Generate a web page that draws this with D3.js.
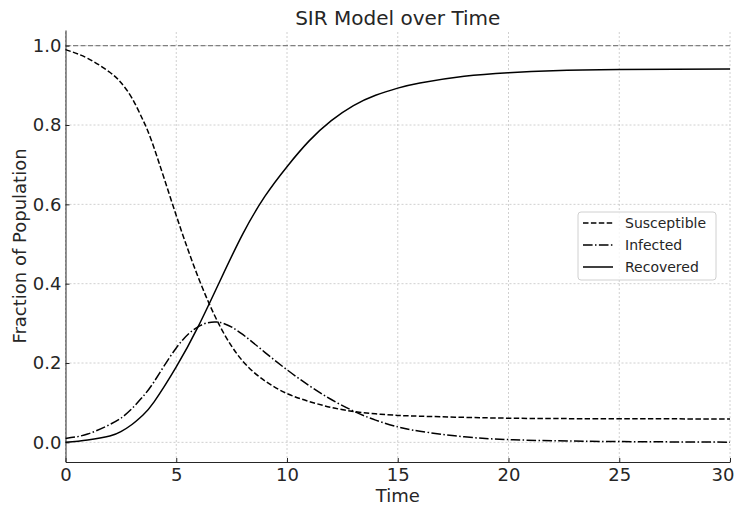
<!DOCTYPE html>
<html>
<head>
<meta charset="utf-8">
<script src="https://cdn.jsdelivr.net/npm/d3@7"></script>
<style>
  body { margin: 0; background: #fff; }
  text { font-family: "DejaVu Sans", sans-serif; fill: #262626; }
</style>
</head>
<body>
<div id="chart"></div>
<script>
// values
var times       = [0, 1, 2, 2.5, 3, 3.5, 4, 5, 6, 7, 8, 9, 10, 11, 12, 13, 14, 15, 16, 18, 20, 22, 25, 30];
var susceptible = [0.99, 0.968, 0.933, 0.907, 0.868, 0.812, 0.742, 0.572, 0.415, 0.29, 0.205, 0.155, 0.123, 0.103, 0.088, 0.078, 0.072, 0.068, 0.066, 0.063, 0.061, 0.060, 0.0595, 0.059];
var infected    = [0.01, 0.021, 0.045, 0.061, 0.085, 0.116, 0.153, 0.238, 0.292, 0.302, 0.272, 0.227, 0.183, 0.143, 0.108, 0.079, 0.056, 0.039, 0.028, 0.014, 0.007, 0.004, 0.002, 0.0005];
var recovered   = [0.0, 0.006, 0.016, 0.027, 0.045, 0.069, 0.102, 0.19, 0.293, 0.41, 0.525, 0.62, 0.695, 0.76, 0.811, 0.849, 0.875, 0.893, 0.906, 0.923, 0.932, 0.937, 0.94, 0.941];

var seriesNames = ['Susceptible', 'Infected', 'Recovered'];
var xTicks = [0, 5, 10, 15, 20, 25, 30];
var yTicks = [0.0, 0.2, 0.4, 0.6, 0.8, 1.0];
var totalPop = 1.0;

var width = 735, height = 507;
var margin = {left: 65.5, right: 5, top: 30, bottom: 45};

var svg = d3.select('#chart').append('svg')
    .attr('width', width)
    .attr('height', height);

var x = d3.scaleLinear()
    .domain([0, 30])
    .range([margin.left, width - margin.right]);

var y = d3.scaleLinear()
    .domain([-0.0495, 1.0395])
    .range([height - margin.bottom, margin.top]);

// grid
var grid = svg.append('g').attr('class', 'grid');
grid.selectAll('.gx').data(xTicks).enter().append('line')
    .attr('x1', function(d) { return x(d); })
    .attr('x2', function(d) { return x(d); })
    .attr('y1', y.range()[0])
    .attr('y2', y.range()[1])
    .attr('stroke', '#c4c4c4')
    .attr('stroke-width', 0.8)
    .attr('stroke-dasharray', '2,2');
grid.selectAll('.gy').data(yTicks).enter().append('line')
    .attr('x1', x.range()[0])
    .attr('x2', x.range()[1])
    .attr('y1', function(d) { return y(d); })
    .attr('y2', function(d) { return y(d); })
    .attr('stroke', '#c4c4c4')
    .attr('stroke-width', 0.8)
    .attr('stroke-dasharray', '2,2');

// total population reference line
svg.append('line')
    .attr('x1', x.range()[0])
    .attr('x2', x.range()[1])
    .attr('y1', y(totalPop))
    .attr('y2', y(totalPop))
    .attr('stroke', '#808080')
    .attr('stroke-width', 1.3)
    .attr('stroke-dasharray', '5,2.5');

// axes
var xAxis = d3.axisBottom(x).tickValues(xTicks).tickSizeInner(-4).tickSizeOuter(0).tickPadding(8)
    .tickFormat(d3.format('d'));
var yAxis = d3.axisLeft(y).tickValues(yTicks).tickSizeInner(-4).tickSizeOuter(0).tickPadding(8)
    .tickFormat(d3.format('.1f'));

var gx = svg.append('g')
    .attr('transform', 'translate(0,' + y.range()[0] + ')')
    .call(xAxis);
var gy = svg.append('g')
    .attr('transform', 'translate(' + x.range()[0] + ',0)')
    .call(yAxis);

[gx, gy].forEach(function(g) {
  g.selectAll('.domain').attr('stroke', '#262626').attr('stroke-width', 1);
  g.selectAll('.tick line').attr('stroke', '#262626');
  g.selectAll('.tick text')
      .style('font-family', '"DejaVu Sans", sans-serif')
      .style('font-size', '18px')
      .attr('fill', '#262626');
});
gy.selectAll('.tick text').attr('x', -4);
gx.selectAll('.tick text').attr('y', 6);
// keep the last label inside the window
gx.selectAll('.tick text').filter(function(d) { return d === 30; })
    .attr('text-anchor', 'end').attr('dx', 4);

// lines
var lineData = [
  {name: seriesNames[0], values: susceptible, dash: '5.5,2.4'},
  {name: seriesNames[1], values: infected, dash: '9.6,2.4,1.5,2.4'},
  {name: seriesNames[2], values: recovered, dash: null}
];

var line = d3.line()
    .x(function(d) { return x(d[0]); })
    .y(function(d) { return y(d[1]); })
    .curve(d3.curveNatural);

svg.append('g').selectAll('path')
    .data(lineData)
  .enter().append('path')
    .attr('d', function(s) { return line(times.map(function(t, i) { return [t, s.values[i]]; })); })
    .attr('fill', 'none')
    .attr('stroke', '#000')
    .attr('stroke-width', 1.5)
    .attr('stroke-dasharray', function(s) { return s.dash; });

// titles
svg.append('text')
    .attr('x', (x.range()[0] + x.range()[1]) / 2)
    .attr('y', 25)
    .attr('text-anchor', 'middle')
    .style('font-size', '20px')
    .attr('fill', '#333')
    .text('SIR Model over Time');

svg.append('text')
    .attr('x', (x.range()[0] + x.range()[1]) / 2)
    .attr('y', 502)
    .attr('text-anchor', 'middle')
    .style('font-size', '18px')
    .text('Time');

svg.append('text')
    .attr('transform', 'translate(26,' + ((y.range()[0] + y.range()[1]) / 2) + ') rotate(-90)')
    .attr('text-anchor', 'middle')
    .style('font-size', '18px')
    .text('Fraction of Population');

// legend
var legend = svg.append('g').attr('transform', 'translate(578,212)');
legend.append('rect')
    .attr('width', 138)
    .attr('height', 68)
    .attr('rx', 3)
    .attr('fill', '#fff')
    .attr('fill-opacity', 0.8)
    .attr('stroke', '#d0d0d0')
    .attr('stroke-width', 1);

var item = legend.selectAll('.item')
    .data(lineData)
  .enter().append('g')
    .attr('transform', function(d, i) { return 'translate(0,' + (11 + i * 22) + ')'; });

item.append('line')
    .attr('x1', 5).attr('x2', 35)
    .attr('stroke', '#000')
    .attr('stroke-width', 1.5)
    .attr('stroke-dasharray', function(d) { return d.dash; });

item.append('text')
    .attr('x', 47)
    .attr('y', 5)
    .style('font-size', '14px')
    .attr('fill', '#333')
    .text(function(d) { return d.name; });
</script>
</body>
</html>
